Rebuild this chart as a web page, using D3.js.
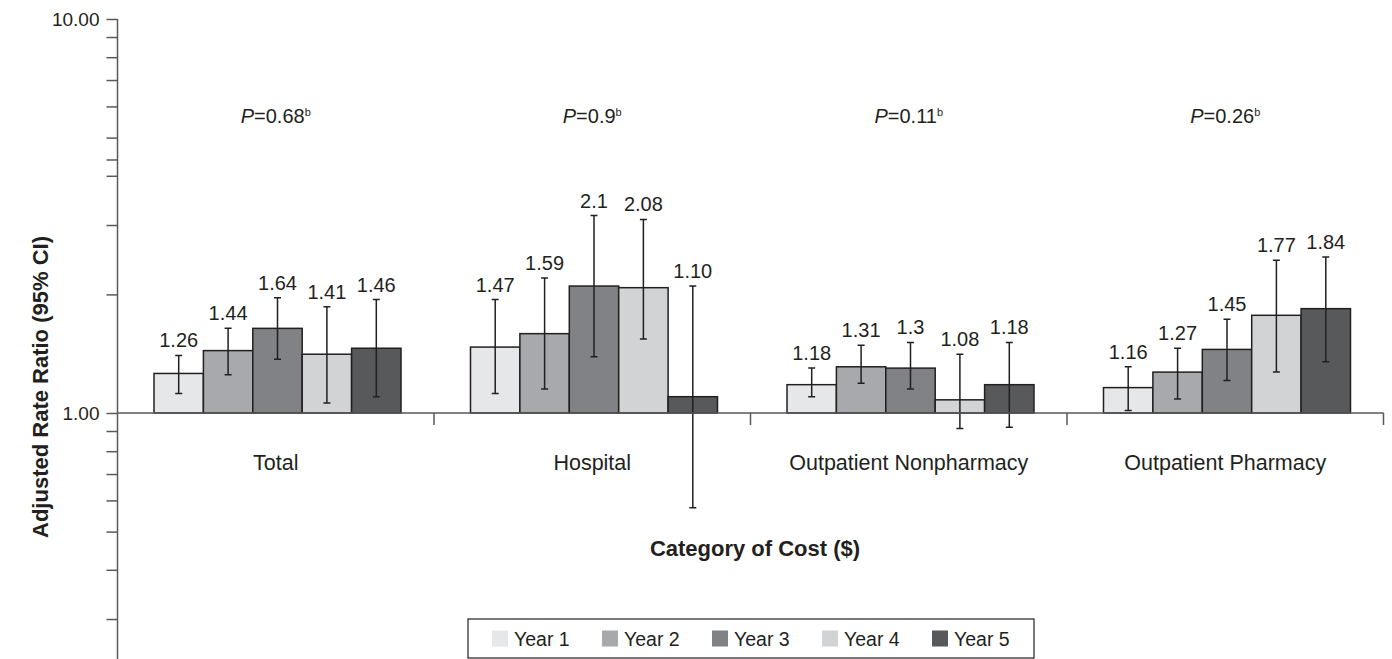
<!doctype html>
<html>
<head>
<script src="https://cdnjs.cloudflare.com/ajax/libs/d3/7.8.5/d3.min.js"></script>
<style>
body { margin: 0; background: #fff; }
svg { display: block; font-family: "Liberation Sans", Arial, Helvetica, sans-serif; }
.bar { stroke: #231f20; stroke-width: 1.5px; }
.err { stroke: #231f20; stroke-width: 1.5px; fill: none; }
.axis path, .axis line { stroke: #58595b; stroke-width: 1.5px; }
.val { font-size: 20px; fill: #231f20; text-anchor: middle; }
.cat { font-size: 21.5px; fill: #231f20; text-anchor: middle; }
.pval { font-size: 20px; fill: #231f20; text-anchor: middle; }
.title { font-size: 22px; font-weight: bold; fill: #231f20; text-anchor: middle; }
.legend text { font-size: 19.5px; fill: #231f20; }
</style>
</head>
<body>
<svg width="1392" height="659"></svg>
<script>
var categories = ["Total", "Hospital", "Outpatient Nonpharmacy", "Outpatient Pharmacy"];
var years = ["Year 1", "Year 2", "Year 3", "Year 4", "Year 5"];
var colors = ["#e6e7e8", "#a7a9ac", "#808285", "#d1d3d4", "#58595b"];
var pValues = ["0.68", "0.9", "0.11", "0.26"];

// adjusted rate ratio per category, one value per year
var rates = [
  [1.26, 1.44, 1.64, 1.41, 1.46],
  [1.47, 1.59, 2.1, 2.08, 1.10],
  [1.18, 1.31, 1.3, 1.08, 1.18],
  [1.16, 1.27, 1.45, 1.77, 1.84]
];
var rateLabels = [
  ["1.26", "1.44", "1.64", "1.41", "1.46"],
  ["1.47", "1.59", "2.1", "2.08", "1.10"],
  ["1.18", "1.31", "1.3", "1.08", "1.18"],
  ["1.16", "1.27", "1.45", "1.77", "1.84"]
];
var ciLow = [
  [1.12, 1.25, 1.37, 1.06, 1.10],
  [1.12, 1.15, 1.39, 1.54, 0.575],
  [1.10, 1.19, 1.15, 0.914, 0.92],
  [1.014, 1.085, 1.21, 1.27, 1.35]
];
var ciHigh = [
  [1.40, 1.64, 1.96, 1.86, 1.94],
  [1.94, 2.20, 3.17, 3.10, 2.10],
  [1.30, 1.485, 1.51, 1.41, 1.51],
  [1.31, 1.46, 1.73, 2.44, 2.49]
];
var yTicks = [0.3, 0.4, 0.5, 0.6, 0.7, 0.8, 0.9, 1, 2, 3, 4, 4.4, 5, 6, 7, 8, 9, 10];

var svg = d3.select("svg");
var left = 117.5, right = 1383.5;

var y = d3.scaleLog().domain([1, 10]).range([413, 19]);
var x0 = d3.scaleBand().domain(categories).range([left, right]);
var x1 = d3.scaleBand().domain(years).range([36.5, 36.5 + 247]);
var color = d3.scaleOrdinal().domain(years).range(colors);

var rows = [];
categories.forEach(function (c, i) {
  years.forEach(function (yr, j) {
    rows.push({cat: c, year: yr, v: rates[i][j], label: rateLabels[i][j], lo: ciLow[i][j], hi: ciHigh[i][j]});
  });
});

// y axis (log)
var yAxisScale = y.copy().domain([0.2, 10]).range([y(0.2), y(10)]);
var yAxis = svg.append("g").attr("class", "axis")
  .attr("transform", "translate(" + left + ",0)")
  .call(d3.axisLeft(yAxisScale).tickValues(yTicks).tickSize(11).tickSizeOuter(0)
    .tickFormat(function (d) { return (d === 1 || d === 10) ? d3.format(".2f")(d) : ""; }));
yAxis.selectAll("text").attr("x", -18).style("font-size", "19px").style("fill", "#231f20")
  .style("font-family", "Liberation Sans, Arial, sans-serif");
yAxis.select(".domain").attr("d", "M0," + y(10) + "V659");

// bars
var g = svg.append("g");
var bars = g.selectAll("g.grp").data(rows).enter().append("g")
  .attr("transform", function (d) { return "translate(" + (x0(d.cat) + x1(d.year)) + ",0)"; });

bars.append("rect").attr("class", "bar")
  .attr("x", 0)
  .attr("width", x1.bandwidth())
  .attr("y", function (d) { return Math.min(y(d.v), y(1)); })
  .attr("height", function (d) { return Math.abs(y(1) - y(d.v)); })
  .attr("fill", function (d) { return color(d.year); });

// x axis line with ticks at group boundaries
var xAxis = svg.append("g").attr("class", "axis");
xAxis.append("line").attr("x1", left).attr("x2", right).attr("y1", y(1)).attr("y2", y(1));
xAxis.selectAll("line.tk").data(categories).enter().append("line").attr("class", "tk")
  .attr("x1", function (d) { return x0(d) + x0.bandwidth(); })
  .attr("x2", function (d) { return x0(d) + x0.bandwidth(); })
  .attr("y1", y(1)).attr("y2", y(1) + 12);

// error bars
var cx = x1.bandwidth() / 2;
bars.append("path").attr("class", "err")
  .attr("d", function (d) {
    var t = y(d.hi), b = y(d.lo);
    return "M" + cx + "," + t + "V" + b +
      "M" + (cx - 3.5) + "," + t + "H" + (cx + 3.5) +
      "M" + (cx - 3.5) + "," + b + "H" + (cx + 3.5);
  });

bars.append("text").attr("class", "val")
  .attr("x", cx)
  .attr("y", function (d) { return y(d.hi) - 8; })
  .text(function (d) { return d.label; });

// category labels
svg.selectAll("text.cat").data(categories).enter().append("text").attr("class", "cat")
  .attr("x", function (d) { return x0(d) + x0.bandwidth() / 2; })
  .attr("y", 470)
  .text(function (d) { return d; });

// P values
var pv = svg.selectAll("text.pval").data(categories).enter().append("text").attr("class", "pval")
  .attr("x", function (d) { return x0(d) + x0.bandwidth() / 2; })
  .attr("y", 123);
pv.append("tspan").style("font-style", "italic").text("P");
pv.append("tspan").text(function (d, i) { return "=" + pValues[i]; });
pv.append("tspan").attr("dy", -7).style("font-size", "11px").text("b");

// axis titles
svg.append("text").attr("class", "title")
  .attr("x", 755).attr("y", 556)
  .text("Category of Cost ($)");
svg.append("text").attr("class", "title")
  .attr("transform", "translate(47.5,387) rotate(-90)")
  .text("Adjusted Rate Ratio (95% CI)");

// legend
var lg = svg.append("g").attr("class", "legend");
lg.append("rect").attr("x", 468).attr("y", 619).attr("width", 566).attr("height", 39)
  .attr("fill", "none").attr("stroke", "#231f20").attr("stroke-width", 1.2);
var lx = d3.scalePoint().domain(years).range([492, 932]);
var li = lg.selectAll("g.li").data(years).enter().append("g")
  .attr("transform", function (d) { return "translate(" + lx(d) + ",630.5)"; });
li.append("rect").attr("width", 16).attr("height", 16).attr("fill", function (d) { return color(d); });
li.append("text").attr("x", 22).attr("y", 15.5).text(function (d) { return d; });
</script>
</body>
</html>
